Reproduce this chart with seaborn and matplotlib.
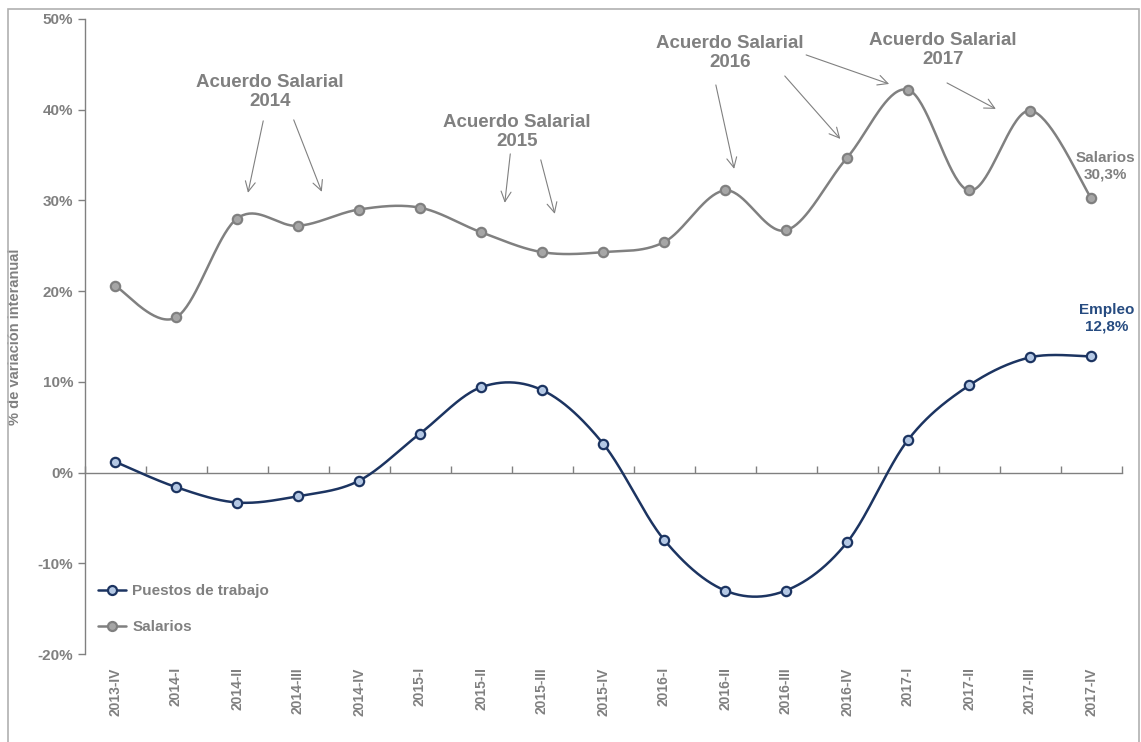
import numpy as np
import pandas as pd
import matplotlib
matplotlib.use("Agg")
import matplotlib.pyplot as plt
from matplotlib.lines import Line2D
from matplotlib.patches import Rectangle
import seaborn as sns

# Quarterly year-on-year variation (%)
quarters = ["2013-IV", "2014-I", "2014-II", "2014-III", "2014-IV",
            "2015-I", "2015-II", "2015-III", "2015-IV",
            "2016-I", "2016-II", "2016-III", "2016-IV",
            "2017-I", "2017-II", "2017-III", "2017-IV"]
puestos = [1.2, -1.6, -3.3, -2.6, -0.9, 4.3, 9.4, 9.1, 3.2,
           -7.4, -13.0, -13.0, -7.7, 3.6, 9.6, 12.7, 12.8]
salarios = [20.6, 17.1, 28.0, 27.2, 29.0, 29.2, 26.5, 24.3, 24.3,
            25.4, 31.1, 26.7, 34.7, 42.2, 31.1, 39.9, 30.3]

y_ticks = [-20, -10, 0, 10, 20, 30, 40, 50]
y_tick_labels = ["-20%", "-10%", "0%", "10%", "20%", "30%", "40%", "50%"]

series_names = ["Puestos de trabajo", "Salarios"]

NAVY = "#1c3461"
NAVY_FILL = "#b4c8e4"
NAVY_TEXT = "#264b80"
GRAY = "#808080"
GRAY_FILL = "#a6a6a6"
TEXT_GRAY = "#808080"


def smooth_curve(values, steps=40):
    """Catmull-Rom style Bezier smoothing through every point."""
    p = np.asarray(values, dtype=float)
    x = np.arange(len(p), dtype=float)
    xs, ys = [], []
    t = np.linspace(0, 1, steps, endpoint=False)
    n = len(p)
    for i in range(n - 1):
        i0 = max(i - 1, 0)
        i3 = min(i + 2, n - 1)
        bx = [x[i], x[i] + (x[i + 1] - x[i0]) / 6, x[i + 1] - (x[i3] - x[i]) / 6, x[i + 1]]
        by = [p[i], p[i] + (p[i + 1] - p[i0]) / 6, p[i + 1] - (p[i3] - p[i]) / 6, p[i + 1]]
        b0 = (1 - t) ** 3
        b1 = 3 * (1 - t) ** 2 * t
        b2 = 3 * (1 - t) * t ** 2
        b3 = t ** 3
        xs.extend(b0 * bx[0] + b1 * bx[1] + b2 * bx[2] + b3 * bx[3])
        ys.extend(b0 * by[0] + b1 * by[1] + b2 * by[2] + b3 * by[3])
    xs.append(x[-1])
    ys.append(p[-1])
    return np.array(xs), np.array(ys)


sns.set_theme(style="white")
plt.rcParams["font.family"] = ["Liberation Sans", "DejaVu Sans"]
plt.rcParams["font.weight"] = "bold"
plt.rcParams["axes.unicode_minus"] = False

fig = plt.figure(figsize=(11.41, 7.42), dpi=100)
ax = fig.add_axes([84.5 / 1141, 1 - 654 / 742, 1037 / 1141, 635 / 742])

points = pd.DataFrame({
    "pos": np.tile(np.arange(len(quarters)), 2),
    "value": puestos + salarios,
    "serie": [series_names[0]] * len(quarters) + [series_names[1]] * len(quarters),
})

curves = []
for name, vals in zip(series_names, [puestos, salarios]):
    cx, cy = smooth_curve(vals)
    curves.append(pd.DataFrame({"pos": cx, "value": cy, "serie": name}))
curves = pd.concat(curves, ignore_index=True)

palette = {series_names[0]: NAVY, series_names[1]: GRAY}
fills = {series_names[0]: NAVY_FILL, series_names[1]: GRAY_FILL}

sns.lineplot(data=curves, x="pos", y="value", hue="serie", palette=palette,
             estimator=None, sort=False, linewidth=1.8, legend=False, ax=ax,
             zorder=3)
for name in series_names:
    sub = points[points["serie"] == name]
    sns.scatterplot(data=sub, x="pos", y="value", color=fills[name],
                    edgecolor=palette[name], linewidth=1.6, s=45,
                    legend=False, ax=ax, zorder=4)

# Axes styling
ax.set_xlim(-0.5, len(quarters) - 0.5)
ax.set_ylim(-20, 50)
ax.set_xlabel("")
ax.set_ylabel("% de variación interanual", fontsize=10.5, color=TEXT_GRAY,
              fontweight="bold")
ax.yaxis.set_label_coords(-0.0603, 0.5)

for side in ["top", "right", "bottom"]:
    ax.spines[side].set_visible(False)
ax.spines["left"].set_color(GRAY)
ax.spines["left"].set_linewidth(1.0)

ax.set_yticks(y_ticks)
ax.set_yticklabels(y_tick_labels)
ax.tick_params(axis="y", direction="out", length=5, width=1.0, color=GRAY,
               labelsize=11, labelcolor=TEXT_GRAY, pad=3, left=True)

ax.set_xticks(np.arange(len(quarters)))
ax.set_xticklabels(quarters, rotation=90)
ax.tick_params(axis="x", length=0, labelsize=10, labelcolor=TEXT_GRAY, pad=9.5)
for lbl in ax.get_xticklabels() + ax.get_yticklabels():
    lbl.set_fontweight("bold")

# Category axis crossing at 0% with tick marks between quarters
zero_axis = ax.secondary_xaxis(0, transform=ax.transData)
zero_axis.set_xticks(np.arange(len(quarters) + 1) - 0.5)
zero_axis.set_xticklabels([])
zero_axis.tick_params(direction="in", length=5, width=1.0, color=GRAY)
zero_axis.spines["bottom"].set_color(GRAY)
zero_axis.spines["bottom"].set_linewidth(1.0)
zero_axis.set_zorder(2)

ax.grid(False)
ax.patch.set_alpha(0)

# Wage agreement annotations
note_kw = dict(fontsize=13.5, fontweight="bold", color=TEXT_GRAY,
               ha="center", va="center", linespacing=1.15)
arrow_kw = dict(arrowstyle="->,head_length=0.6,head_width=0.3",
                color=GRAY, lw=0.8, shrinkA=0, shrinkB=0)

notes = [
    ("Acuerdo Salarial\n2014", (2.54, 41.96),
     [((2.43, 38.77), (2.18, 30.84)), ((2.93, 38.88), (3.39, 30.95))]),
    ("Acuerdo Salarial\n2015", (6.59, 37.56),
     [((6.48, 35.13), (6.39, 29.74)), ((6.98, 34.47), (7.21, 28.52))]),
    ("Acuerdo Salarial\n2016", (10.08, 46.26),
     [((9.85, 42.73), (10.15, 33.48)), ((10.98, 43.72), (11.89, 36.78))]),
    ("Acuerdo Salarial\n2017", (13.57, 46.59),
     [((11.33, 46.04), (12.69, 42.84)), ((13.64, 42.95), (14.44, 40.09))]),
]
for text, pos, arrows in notes:
    ax.text(pos[0], pos[1], text, **note_kw)
    for start, end in arrows:
        ax.annotate("", xy=end, xytext=start, arrowprops=arrow_kw)

# Last value labels
last = len(quarters) - 1
ax.text(last + 0.23, salarios[-1] + 3.5,
        "Salarios\n" + f"{salarios[-1]:.1f}%".replace(".", ","),
        fontsize=11, fontweight="bold", color=TEXT_GRAY, ha="center",
        va="center", linespacing=1.2)
ax.text(last + 0.26, puestos[-1] + 4.2,
        "Empleo\n" + f"{puestos[-1]:.1f}%".replace(".", ","),
        fontsize=11, fontweight="bold", color=NAVY_TEXT, ha="center",
        va="center", linespacing=1.2)

# Legend
handles = [
    Line2D([], [], color=NAVY, lw=1.8, marker="o", markersize=6.5,
           markerfacecolor=NAVY_FILL, markeredgecolor=NAVY, markeredgewidth=1.6),
    Line2D([], [], color=GRAY, lw=1.8, marker="o", markersize=6.5,
           markerfacecolor=GRAY_FILL, markeredgecolor=GRAY, markeredgewidth=1.6),
]
leg = fig.legend(handles, series_names, loc="center left",
                 bbox_to_anchor=(98 / 1141, 1 - 609 / 742),
                 bbox_transform=fig.transFigure, frameon=False,
                 fontsize=11, handlelength=1.8, handletextpad=0.45,
                 labelspacing=1.45, borderpad=0, borderaxespad=0)
for t in leg.get_texts():
    t.set_color(TEXT_GRAY)
    t.set_fontweight("bold")

# Outer chart frame
fig.patches.append(Rectangle((8 / 1141, -0.01), 1131 / 1141, 1 - 9 / 742 + 0.01,
                             transform=fig.transFigure, fill=False,
                             edgecolor="#b0b0b0", linewidth=1.2))

fig.savefig("out.png", dpi=100, facecolor="white")
